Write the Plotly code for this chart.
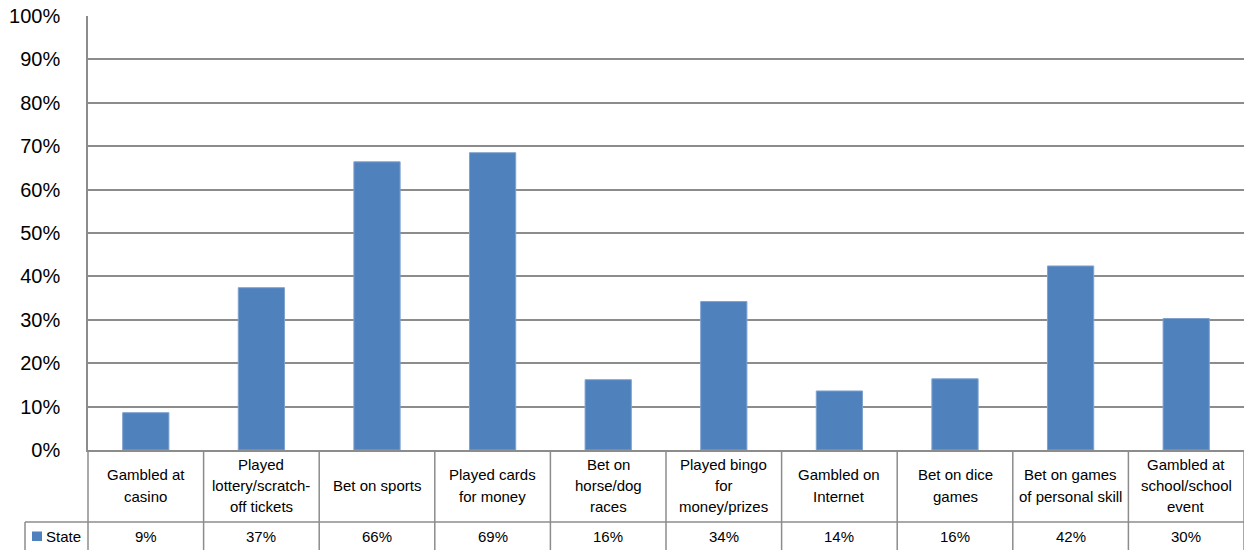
import plotly.graph_objects as go

# ---- data ----
categories = [
    "Gambled at\ncasino",
    "Played\nlottery/scratch-\noff tickets",
    "Bet on sports",
    "Played cards\nfor money",
    "Bet on\nhorse/dog\nraces",
    "Played bingo\nfor\nmoney/prizes",
    "Gambled on\nInternet",
    "Bet on dice\ngames",
    "Bet on games\nof personal skill",
    "Gambled at\nschool/school\nevent",
]
state_values = [8.6, 37.4, 66.4, 68.5, 16.2, 34.2, 13.6, 16.4, 42.4, 30.3]
table_labels = ["9%", "37%", "66%", "69%", "16%", "34%", "14%", "16%", "42%", "30%"]
series_name = "State"
y_ticks = [0, 10, 20, 30, 40, 50, 60, 70, 80, 90, 100]
y_tick_labels = ["0%", "10%", "20%", "30%", "40%", "50%", "60%", "70%", "80%", "90%", "100%"]

# ---- layout constants ----
W, H = 1247, 550
ML, MR, MT, MB = 88, 3, 16, 100
PH = H - MT - MB            # plot height in px
PW = W - ML - MR
BAR_COLOR = "#4F81BD"
GRID = "#8C8C8C"
FONT = "Liberation Sans, Arial, sans-serif"


def py(px_y):
    """convert a pixel y (from top of figure) to paper coordinate"""
    return (H - MB - px_y) / PH


def px_x(px):
    return (px - ML) / PW


fig = go.Figure()
fig.add_trace(go.Bar(
    x=list(range(len(categories))),
    y=state_values,
    name=series_name,
    marker=dict(color=BAR_COLOR, line=dict(color="#7FA2CF", width=1)),
    width=0.4,
    showlegend=False,
))

shapes = []
annotations = []

# table horizontal line (between header row and data row)
shapes.append(dict(type="line", xref="paper", yref="paper",
                   x0=px_x(25), x1=1, y0=py(522), y1=py(522),
                   line=dict(color=GRID, width=1.5)))
# vertical separators of the table
n = len(categories)
for i in range(n):
    shapes.append(dict(type="line", xref="x", yref="paper",
                       x0=i + 0.5, x1=i + 0.5, y0=0, y1=py(560),
                       line=dict(color=GRID, width=1.5)))
# left axis extension into table and legend cell border
shapes.append(dict(type="line", xref="paper", yref="paper",
                   x0=0, x1=0, y0=0, y1=py(560),
                   line=dict(color=GRID, width=1.5)))
shapes.append(dict(type="line", xref="paper", yref="paper",
                   x0=px_x(25), x1=px_x(25), y0=py(522), y1=py(560),
                   line=dict(color=GRID, width=1.5)))
# legend key square
shapes.append(dict(type="rect", xref="paper", yref="paper",
                   x0=px_x(32), x1=px_x(42), y0=py(541), y1=py(531.5),
                   fillcolor=BAR_COLOR, line=dict(width=0)))

# header cells (category names) — each line placed separately
LINE_H = 21
for i, lab in enumerate(categories):
    lines = lab.split("\n")
    k = len(lines)
    for j, ln in enumerate(lines):
        yc = 485.5 + (j - (k - 1) / 2) * LINE_H
        annotations.append(dict(x=i, y=py(yc), xref="x", yref="paper",
                                text=ln, showarrow=False, xanchor="center",
                                yanchor="middle",
                                font=dict(size=15, color="#000", family=FONT)))
# data row
for i, t in enumerate(table_labels):
    annotations.append(dict(x=i, y=py(536.5), xref="x", yref="paper",
                            text=t, showarrow=False, xanchor="center",
                            yanchor="middle",
                            font=dict(size=15, color="#000", family=FONT)))
annotations.append(dict(x=px_x(44), y=py(536.5), xref="paper", yref="paper",
                        text=series_name, showarrow=False, xanchor="left",
                        yanchor="middle",
                        font=dict(size=15, color="#000", family=FONT)))

fig.update_layout(
    width=W, height=H,
    margin=dict(l=ML, r=MR, t=MT, b=MB, pad=0),
    paper_bgcolor="white", plot_bgcolor="white",
    font=dict(family=FONT, color="#000"),
    shapes=shapes,
    annotations=annotations,
    bargap=0.6,
)
fig.update_xaxes(
    type="linear", range=[-0.5, n - 0.5],
    showticklabels=False, showgrid=False, zeroline=False,
    showline=True, linecolor=GRID, linewidth=1.5, ticks="",
)
fig.update_yaxes(
    range=[0, 100], tickmode="array", tickvals=y_ticks, ticktext=y_tick_labels,
    showgrid=True, gridcolor=GRID, gridwidth=1.5,
    zeroline=False, showline=True, linecolor=GRID, linewidth=1.5,
    ticks="", ticklabelstandoff=22,
    tickfont=dict(size=20, color="#000", family=FONT),
)

fig.write_html(
    "out.html",
    config={"displayModeBar": False},
    post_script="document.body.style.margin='0';document.body.style.overflow='hidden';",
)
